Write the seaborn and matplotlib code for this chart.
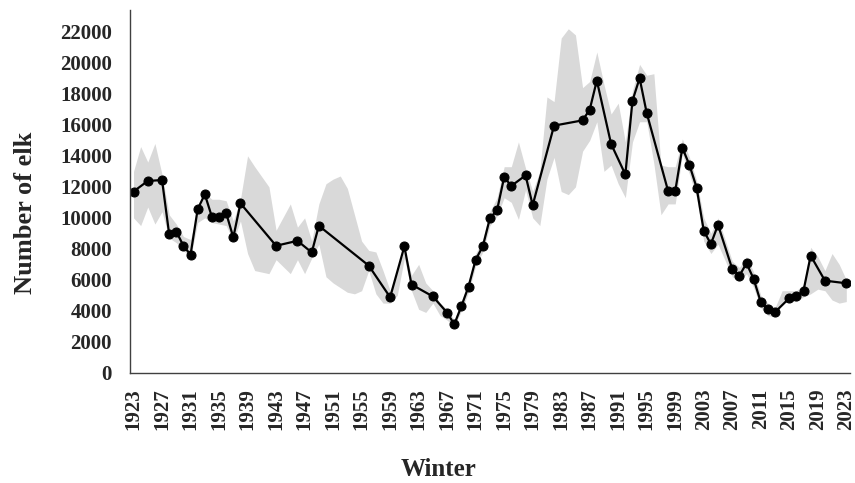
import numpy as np
import pandas as pd
import matplotlib
matplotlib.use("Agg")
import matplotlib.pyplot as plt
import seaborn as sns

# ==========================================================
# Data
# ==========================================================
count_years = [1923, 1925, 1927, 1928, 1929, 1930, 1931, 1932, 1933, 1934,
               1935, 1936, 1937, 1938, 1943, 1946, 1948, 1949, 1956, 1959,
               1961, 1962, 1965, 1967, 1968, 1969, 1970, 1971, 1972, 1973,
               1974, 1975, 1976, 1978, 1979, 1982, 1986, 1987, 1988, 1990,
               1992, 1993, 1994, 1995, 1998, 1999, 2000, 2001, 2002, 2003,
               2004, 2005, 2007, 2008, 2009, 2010, 2011, 2012, 2013, 2015,
               2016, 2017, 2018, 2020, 2023]
elk_counts = [11700, 12380, 12440, 8950, 9120, 8200, 7620, 10560, 11520, 10060,
              10060, 10300, 8740, 10940, 8200, 8520, 7770, 9490, 6920, 4880,
              8160, 5700, 4930, 3880, 3130, 4300, 5570, 7300, 8160, 9980,
              10490, 12630, 12060, 12740, 10820, 15950, 16290, 16980, 18860, 14770,
              12800, 17560, 19010, 16760, 11730, 11730, 14520, 13400, 11950, 9170,
              8310, 9550, 6700, 6270, 7070, 6060, 4560, 4140, 3920, 4820,
              4930, 5310, 7560, 5950, 5780]

band_years = [1923, 1924, 1925, 1926, 1927, 1928, 1929, 1930, 1931, 1932,
              1933, 1934, 1935, 1936, 1937, 1938, 1939, 1940, 1942, 1943,
              1945, 1946, 1947, 1948, 1949, 1950, 1951, 1952, 1953, 1954,
              1955, 1956, 1957, 1958, 1959, 1960, 1961, 1962, 1963, 1964,
              1965, 1966, 1967, 1968, 1969, 1970, 1971, 1972, 1973, 1974,
              1975, 1976, 1977, 1978, 1979, 1980, 1981, 1982, 1983, 1984,
              1985, 1986, 1987, 1988, 1989, 1990, 1991, 1992, 1993, 1994,
              1995, 1996, 1997, 1998, 1999, 2000, 2001, 2002, 2003, 2004,
              2005, 2007, 2008, 2009, 2010, 2011, 2012, 2013, 2014, 2015,
              2016, 2017, 2018, 2019, 2020, 2021, 2022, 2023]
band_low = [10000, 9500, 10700, 9600, 10400, 8700, 8400, 7900, 7400, 9700,
            10000, 9700, 9600, 9500, 8500, 9800, 7700, 6600, 6400, 7300,
            6400, 7300, 6400, 7400, 8300, 6200, 5800, 5500, 5200, 5100,
            5300, 6600, 5100, 4500, 4500, 5000, 7400, 5300, 4100, 3900,
            4500, 3700, 3400, 3000, 4000, 5200, 6900, 7800, 9500, 10100,
            11300, 11000, 9900, 11800, 10000, 9500, 12500, 13900, 11700, 11500,
            12000, 14300, 15000, 16200, 13000, 13400, 12200, 11300, 14900, 16200,
            16200, 13500, 10200, 10900, 10900, 14100, 12800, 11300, 8500, 7700,
            8300, 6200, 5900, 6400, 5500, 4200, 3700, 3600, 4500, 4600,
            4600, 4900, 5100, 5400, 5300, 4700, 4500, 4600]
band_high = [13000, 14600, 13600, 14800, 12800, 10200, 9600, 8800, 8600, 10400,
             11600, 11200, 11200, 11100, 9800, 11200, 14000, 13300, 12000, 9200,
             10900, 9400, 10000, 8500, 10900, 12200, 12500, 12700, 11900, 10200,
             8500, 7900, 7800, 6600, 5300, 6600, 8000, 6300, 7000, 5800,
             5300, 4500, 4100, 3400, 4600, 5900, 7700, 8600, 10400, 11300,
             13300, 13300, 14900, 13200, 11700, 13000, 17800, 17500, 21600, 22200,
             21800, 18400, 18800, 20700, 18600, 16700, 17400, 14900, 18200, 19900,
             19200, 19300, 13400, 13300, 13300, 15100, 13900, 12400, 10000, 9000,
             10000, 7200, 6800, 7500, 6500, 5000, 4500, 4200, 5300, 5300,
             5300, 5700, 8100, 7500, 6600, 7700, 7000, 6000]

label_years = list(range(1923, 2024, 4))
y_ticks = list(range(0, 22001, 2000))

counts = pd.DataFrame({"winter": count_years, "elk": elk_counts})

# ==========================================================
# Plot
# ==========================================================
sns.set_style("white")
plt.rcParams['font.family'] = ['Liberation Serif', 'DejaVu Serif']
plt.rcParams['font.weight'] = 'bold'

fig = plt.figure(figsize=(8.55, 4.83), dpi=100)
ax = fig.add_axes([0.152, 0.228, 0.842, 0.751])

ax.fill_between(band_years, band_low, band_high, color='#d9d9d9', linewidth=0)
sns.lineplot(data=counts, x='winter', y='elk', ax=ax, color='black', linewidth=1.6,
             marker='o', markersize=6.5, markeredgecolor='black')

# category-style axis: tick marks between categories every 5 winters,
# labels centred on every 4th winter
ax.set_xlim(1922.5, 2023.5)
ax.set_ylim(0, 23400)
ax.set_xticks(label_years)
ax.set_xticklabels([str(y) for y in label_years], rotation=90, fontsize=15, fontweight='bold')
ax.set_xticks(np.arange(1922.5, 2023, 5), minor=True)
ax.tick_params(axis='x', which='major', length=0, pad=11)
ax.tick_params(axis='x', which='minor', direction='out', length=6, width=1, color='#404040')

ax.set_yticks(y_ticks)
ax.set_yticklabels([str(v) for v in y_ticks], fontsize=15, fontweight='bold')
ax.tick_params(axis='y', direction='out', length=5, width=1, color='#404040', pad=8)

for side in ['top', 'right']:
    ax.spines[side].set_visible(False)
for side in ['left', 'bottom']:
    ax.spines[side].set_color('#404040')
    ax.spines[side].set_linewidth(1)

ax.set_xlabel('Winter', fontsize=18, fontweight='bold')
ax.set_ylabel('Number of elk', fontsize=19, fontweight='bold')
ax.xaxis.set_label_coords(0.428, -0.235)
ax.yaxis.set_label_coords(-0.129, 0.44)

fig.savefig('out.png', dpi=100)
